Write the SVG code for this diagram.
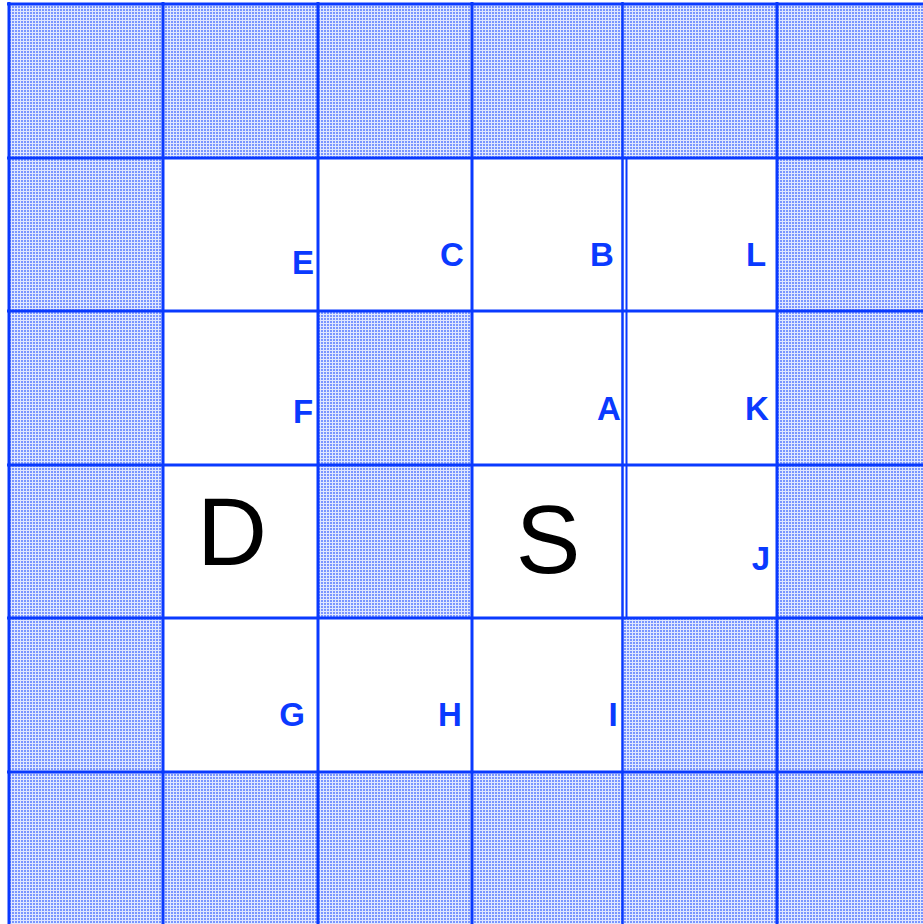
<svg xmlns="http://www.w3.org/2000/svg" width="923" height="924" viewBox="0 0 923 924">
<defs>
<pattern id="dots" width="3" height="3" patternUnits="userSpaceOnUse">
<rect width="3" height="3" fill="#e0e7ff"/>
<rect x="0" y="0" width="2" height="2" fill="#7a96ff"/>
</pattern>
</defs>
<style>
.sh{fill:url(#dots)}
.wh{fill:#ffffff}
.grid line{stroke:#0a3aff;stroke-width:3}
.lbl{font-family:"Liberation Sans",Arial,sans-serif;font-weight:bold;font-size:33px;fill:#0a3aff;text-anchor:middle}
.big{font-family:"Liberation Sans",Arial,sans-serif;font-size:97px;fill:#000;text-anchor:middle}
</style>
<rect x="0" y="0" width="923" height="924" fill="#ffffff"/>
<g id="background">
<rect class="sh" x="9" y="4" width="914" height="920"/>
</g>
<g id="cells">
<rect id="cellE" class="wh" x="163" y="158" width="155" height="153"/>
<rect id="cellC" class="wh" x="318" y="158" width="154" height="153"/>
<rect id="cellB" class="wh" x="472" y="158" width="152" height="153"/>
<rect id="cellL" class="wh" x="624" y="158" width="153" height="153"/>
<rect id="cellF" class="wh" x="163" y="311" width="155" height="154"/>
<rect id="cellA" class="wh" x="472" y="311" width="152" height="154"/>
<rect id="cellK" class="wh" x="624" y="311" width="153" height="154"/>
<rect id="cellD" class="wh" x="163" y="465" width="155" height="153"/>
<rect id="cellS" class="wh" x="472" y="465" width="152" height="153"/>
<rect id="cellJ" class="wh" x="624" y="465" width="153" height="153"/>
<rect id="cellG" class="wh" x="163" y="618" width="155" height="154"/>
<rect id="cellH" class="wh" x="318" y="618" width="154" height="154"/>
<rect id="cellI" class="wh" x="472" y="618" width="152" height="154"/>
</g>
<g id="connectors" class="grid">
<line x1="9" y1="2" x2="9" y2="924"/>
<line x1="163" y1="2" x2="163" y2="924"/>
<line x1="318" y1="2" x2="318" y2="924"/>
<line x1="472" y1="2" x2="472" y2="924"/>
<line x1="622.5" y1="2" x2="622.5" y2="924" style="stroke-width:2.5"/>
<line x1="626.5" y1="158" x2="626.5" y2="618" style="stroke-width:2"/>
<line x1="777" y1="2" x2="777" y2="924"/>
<line x1="7" y1="4" x2="923" y2="4"/>
<line x1="7" y1="158" x2="923" y2="158"/>
<line x1="7" y1="311" x2="923" y2="311"/>
<line x1="7" y1="465" x2="923" y2="465"/>
<line x1="7" y1="618" x2="923" y2="618"/>
<line x1="7" y1="772" x2="923" y2="772"/>
</g>
<g id="labels">
<g id="nodeE"><text class="lbl" x="303" y="274">E</text></g>
<g id="nodeC"><text class="lbl" x="452" y="266">C</text></g>
<g id="nodeB"><text class="lbl" x="602" y="266">B</text></g>
<g id="nodeL"><text class="lbl" x="756" y="266">L</text></g>
<g id="nodeF"><text class="lbl" x="303" y="423">F</text></g>
<g id="nodeA"><text class="lbl" x="609" y="420">A</text></g>
<g id="nodeK"><text class="lbl" x="757" y="420">K</text></g>
<g id="nodeJ"><text class="lbl" x="761" y="570">J</text></g>
<g id="nodeG"><text class="lbl" x="292" y="726">G</text></g>
<g id="nodeH"><text class="lbl" x="450" y="726">H</text></g>
<g id="nodeI"><text class="lbl" x="613" y="726">I</text></g>
<g id="nodeD"><text class="big" x="232" y="565">D</text></g>
<g id="nodeS"><text class="big" x="548" y="573">S</text></g>
</g>
</svg>
